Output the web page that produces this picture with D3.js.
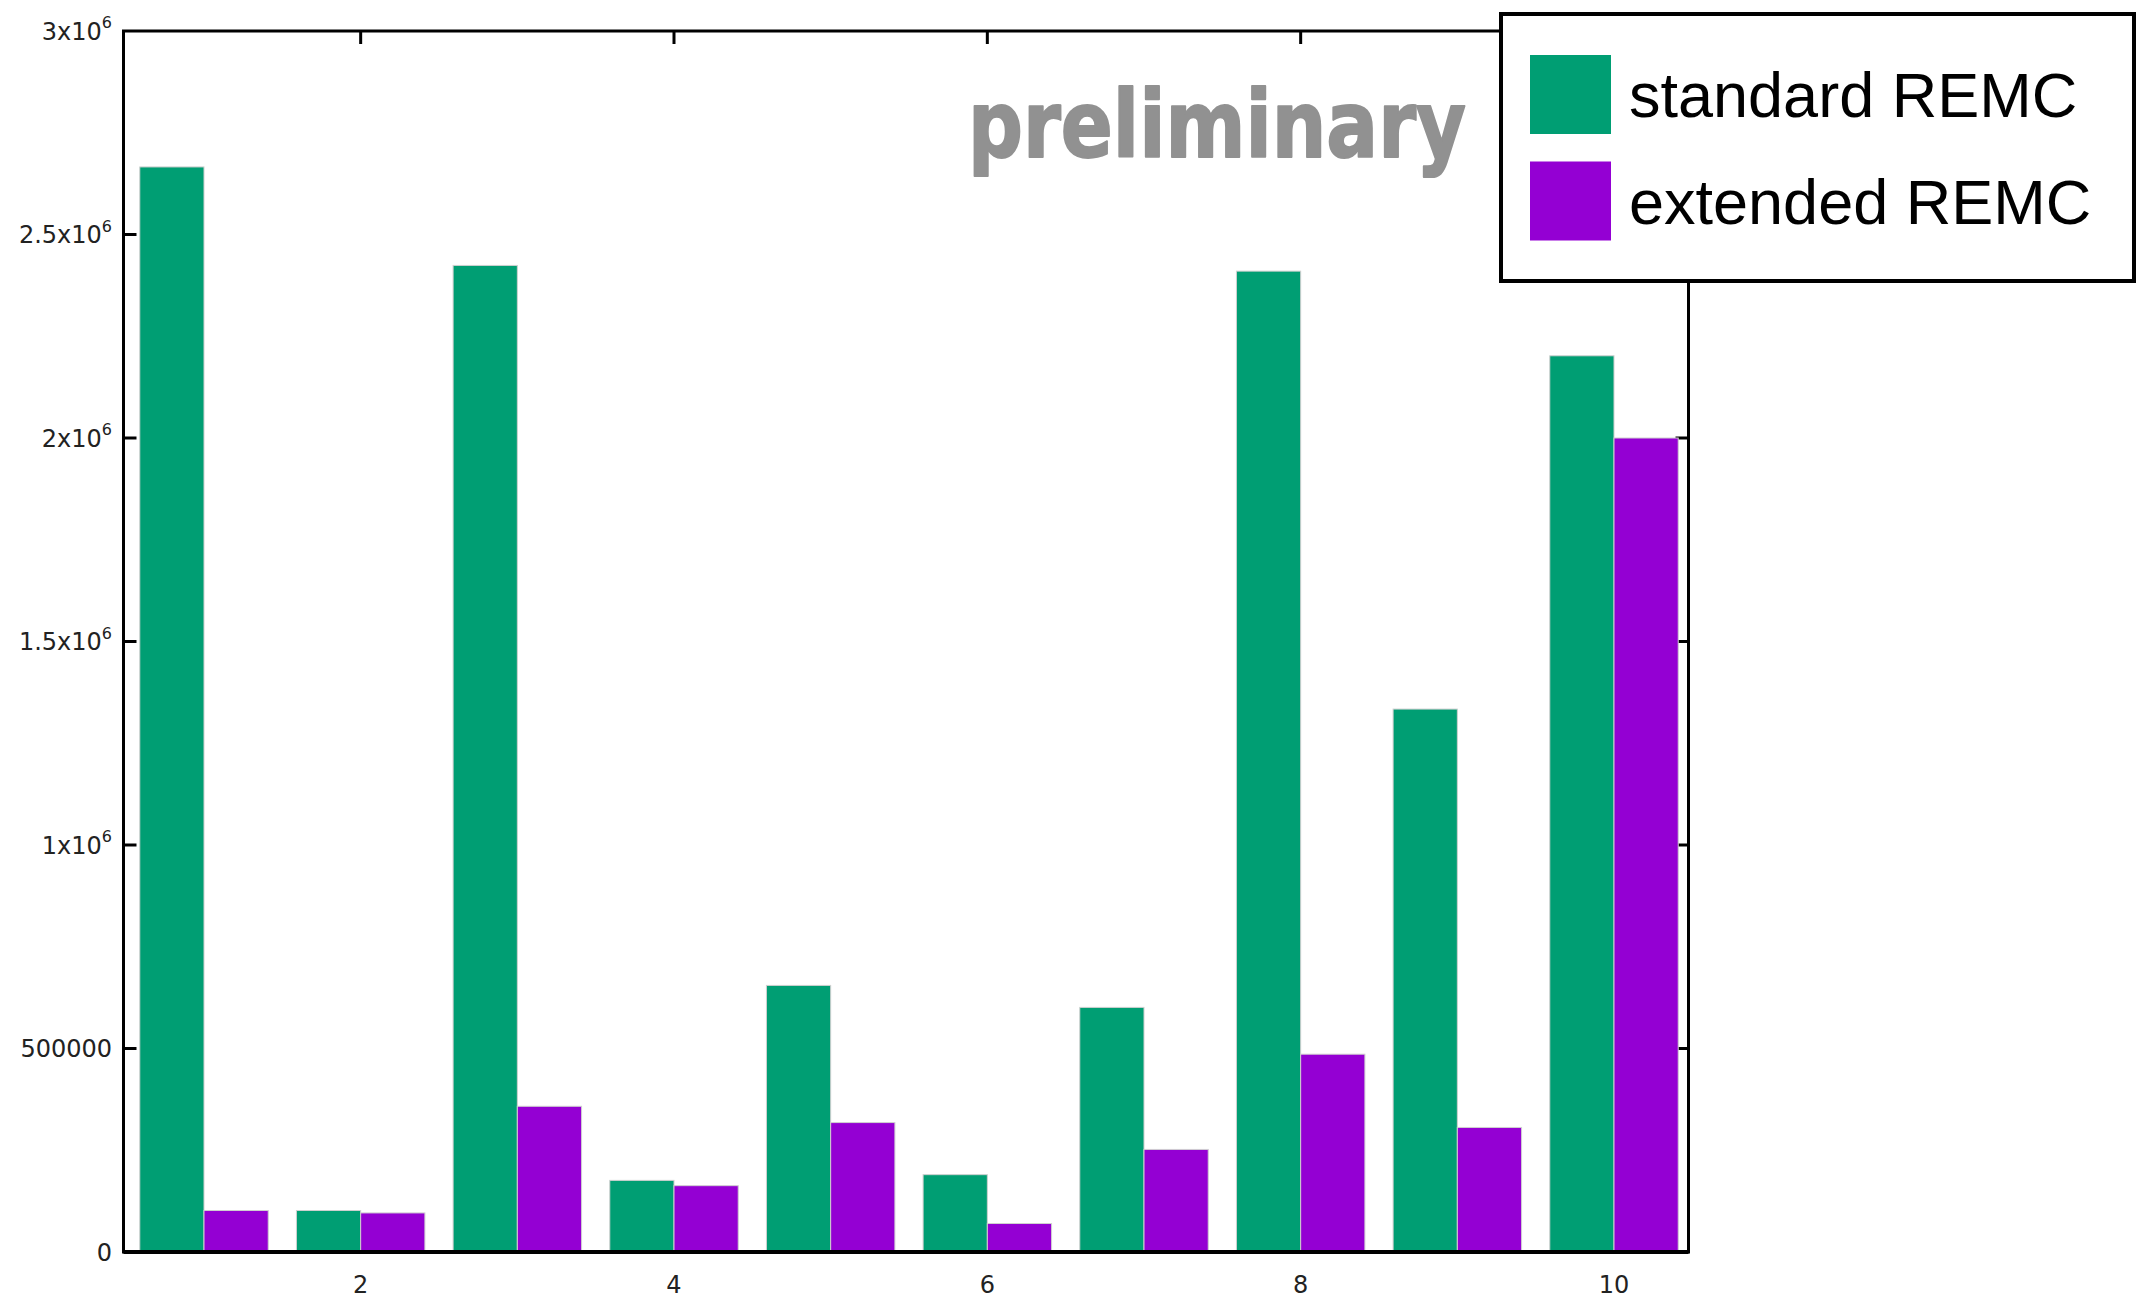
<!DOCTYPE html>
<html>
<head>
<meta charset="utf-8">
<script src="https://cdn.jsdelivr.net/npm/d3@7"></script>
<style>
  html, body { margin: 0; padding: 0; background: #fff; }
  svg { display: block; }
</style>
</head>
<body>
<svg id="chart" width="2146" height="1298"></svg>
<script>
// values
const categories = [1, 2, 3, 4, 5, 6, 7, 8, 9, 10];
const standardREMC = [2666000, 102000, 2424000, 176000, 655000, 190000, 601000, 2410000, 1334000, 2202000];
const extendedREMC = [102000, 96000, 358000, 163000, 318000, 70000, 252000, 486000, 306000, 2000000];
const seriesNames = ['standard REMC', 'extended REMC'];
const seriesColors = ['#009e73', '#9400d3'];
const yTicks = [0, 500000, 1000000, 1500000, 2000000, 2500000, 3000000];
const xTicks = [2, 4, 6, 8, 10];

const plotLeft = 123.5, plotRight = 1688.5, plotTop = 31, plotBottom = 1252;
const tickLen = 13;
const boxW = 0.41;

const svg = d3.select('#chart');

const x = d3.scaleLinear().domain([1, 10]).range([204, 1614]);
const y = d3.scaleLinear().domain([0, 3000000]).range([plotBottom, plotTop]);

// ticks (drawn first so bars sit over them)
const ticks = svg.append('g').attr('class', 'ticks')
  .attr('stroke', '#000').attr('stroke-width', 3);

ticks.selectAll('.ytl').data(yTicks.slice(1, -1)).join('line')
  .attr('x1', plotLeft).attr('x2', plotLeft + tickLen)
  .attr('y1', d => y(d)).attr('y2', d => y(d));
ticks.selectAll('.ytr').data(yTicks.slice(1, -1)).join('line')
  .attr('x1', plotRight).attr('x2', plotRight - tickLen)
  .attr('y1', d => y(d)).attr('y2', d => y(d));
ticks.selectAll('.xtt').data(xTicks).join('line')
  .attr('x1', d => x(d)).attr('x2', d => x(d))
  .attr('y1', plotTop).attr('y2', plotTop + tickLen);
ticks.selectAll('.xtb').data(xTicks).join('line')
  .attr('x1', d => x(d)).attr('x2', d => x(d))
  .attr('y1', plotBottom).attr('y2', plotBottom - tickLen);

// bars
const series = [standardREMC, extendedREMC];
series.forEach((vals, s) => {
  svg.append('g').attr('class', 'series-' + s)
    .selectAll('rect')
    .data(categories.map((c, i) => ({ c, v: vals[i] })))
    .join('rect')
    .attr('x', d => s === 0 ? x(d.c - boxW) : x(d.c))
    .attr('width', d => x(d.c + boxW) - x(d.c))
    .attr('y', d => y(d.v))
    .attr('height', d => y(0) - y(d.v))
    .attr('fill', seriesColors[s])
    .attr('stroke', '#d0d0d0')
    .attr('stroke-width', 1);
});

// plot border
svg.append('rect')
  .attr('x', plotLeft).attr('y', plotTop)
  .attr('width', plotRight - plotLeft).attr('height', plotBottom - plotTop)
  .attr('fill', 'none').attr('stroke', '#000').attr('stroke-width', 3);
svg.append('line')
  .attr('x1', plotLeft).attr('x2', plotRight)
  .attr('y1', plotBottom).attr('y2', plotBottom)
  .attr('stroke', '#000').attr('stroke-width', 4);

// y tick labels with "x10^6" style
const yLab = svg.append('g').attr('class', 'y-labels')
  .style('font-family', 'DejaVu Sans, sans-serif')
  .style('font-size', '24px')
  .attr('fill', '#222');

yTicks.forEach(v => {
  const t = yLab.append('text')
    .attr('x', 112)
    .attr('y', y(v) + 8.5)
    .attr('text-anchor', 'end');
  if (v < 1000000) {
    t.text(v);
  } else {
    t.append('tspan').text(d3.format('~g')(v / 1000000) + 'x10');
    t.append('tspan').attr('dy', -11.5).style('font-size', '16px').text('6');
  }
});

// x tick labels
svg.append('g').attr('class', 'x-labels')
  .style('font-family', 'DejaVu Sans, sans-serif')
  .style('font-size', '24px')
  .attr('fill', '#222')
  .selectAll('text').data(xTicks).join('text')
  .attr('x', d => x(d))
  .attr('y', 1293)
  .attr('text-anchor', 'middle')
  .text(d => d);

// "preliminary" stamp
svg.append('text')
  .attr('x', 968)
  .attr('y', 157)
  .attr('textLength', 498)
  .attr('lengthAdjust', 'spacingAndGlyphs')
  .style('font-family', '"Comic Sans MS", "DejaVu Sans", sans-serif')
  .style('font-weight', 'bold')
  .style('font-size', '92px')
  .attr('fill', '#919191')
  .attr('stroke', '#919191')
  .attr('stroke-width', 2)
  .attr('stroke-linejoin', 'round')
  .text('preliminary');

// legend
const legend = svg.append('g').attr('class', 'legend');
legend.append('rect')
  .attr('x', 1501).attr('y', 14)
  .attr('width', 633).attr('height', 267)
  .attr('fill', '#fff').attr('stroke', '#000').attr('stroke-width', 4);

const legendRows = legend.selectAll('.row').data(seriesNames).join('g')
  .attr('transform', (d, i) => `translate(0, ${i * 106.5})`);
legendRows.append('rect')
  .attr('x', 1530).attr('y', 55)
  .attr('width', 81).attr('height', 79)
  .attr('fill', (d, i) => seriesColors[i]);
legendRows.append('text')
  .attr('x', 1629).attr('y', 117)
  .style('font-family', 'Liberation Sans, Arial, sans-serif')
  .style('font-size', '63px')
  .attr('fill', '#000')
  .text(d => d);
</script>
</body>
</html>
